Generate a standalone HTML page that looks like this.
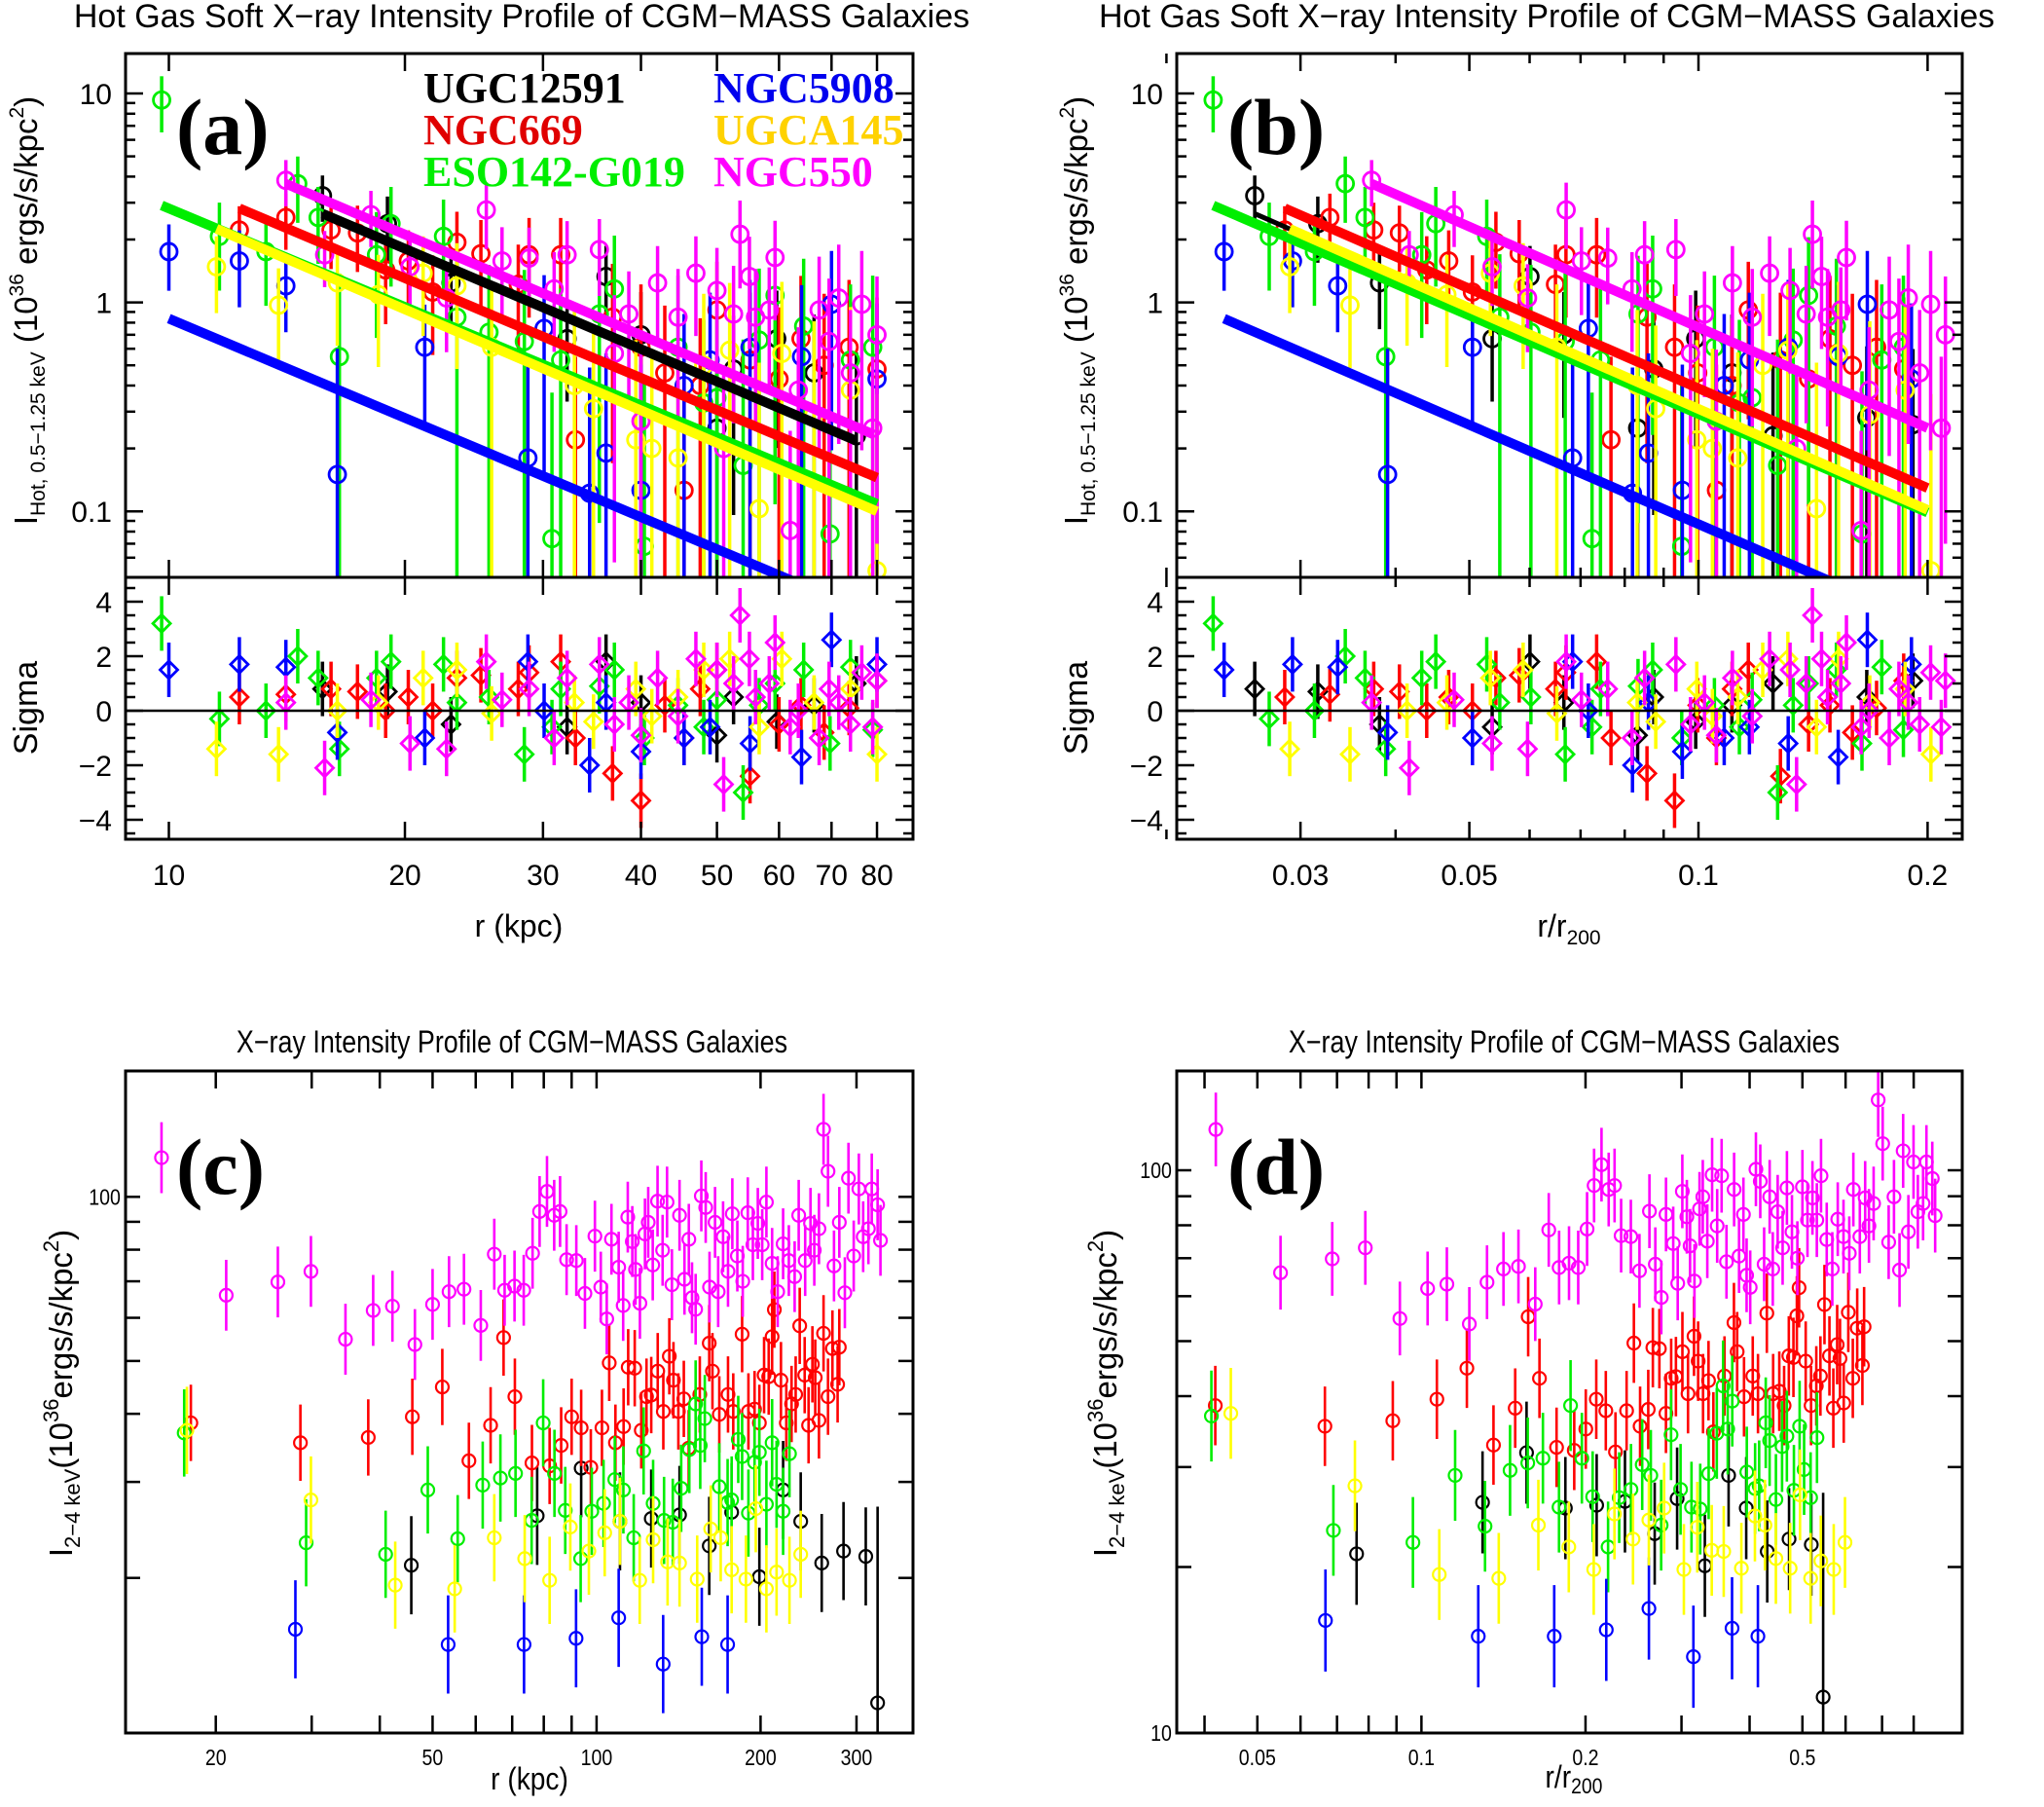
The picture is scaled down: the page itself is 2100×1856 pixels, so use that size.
<!DOCTYPE html>
<html><head><meta charset="utf-8"><style>
html,body{margin:0;padding:0;background:#fff;overflow:hidden;}
svg{display:block;font-family:"Liberation Sans",sans-serif;}
.ser{font-family:"Liberation Serif",serif;font-weight:bold;}
</style></head><body>
<svg id="fig" width="2100" height="1856" viewBox="0 0 2100 1856" xmlns="http://www.w3.org/2000/svg" overflow="hidden">
<defs>
<clipPath id="clipA"><rect x="129" y="55" width="809" height="538"/></clipPath>
<clipPath id="clipAs"><rect x="129" y="593" width="809" height="269"/></clipPath>
<clipPath id="clipB"><rect x="1209" y="55" width="807" height="538"/></clipPath>
<clipPath id="clipBs"><rect x="1209" y="593" width="807" height="269"/></clipPath>
<clipPath id="clipC"><rect x="129" y="1100" width="809" height="680"/></clipPath>
<clipPath id="clipD"><rect x="1209" y="1100" width="807" height="680"/></clipPath>
</defs>
<text x="536" y="28" font-size="34" text-anchor="middle">Hot Gas Soft X−ray Intensity Profile of CGM−MASS Galaxies</text>
<text x="1129" y="28" font-size="34">Hot Gas Soft X−ray Intensity Profile of CGM−MASS Galaxies</text>
<text x="526" y="1081" font-size="32" text-anchor="middle" transform="translate(526 0) scale(0.84 1) translate(-526 0)">X−ray Intensity Profile of CGM−MASS Galaxies</text>
<text x="1607" y="1081" font-size="32" text-anchor="middle" transform="translate(1607 0) scale(0.84 1) translate(-1607 0)">X−ray Intensity Profile of CGM−MASS Galaxies</text>

<text transform="translate(38 319) rotate(-90)" font-size="33" text-anchor="middle">I<tspan font-size="21" dy="8">Hot, 0.5−1.25 keV</tspan><tspan dy="-8"> (10</tspan><tspan font-size="21" dy="-14">36</tspan><tspan dy="14"> ergs/s/kpc</tspan><tspan font-size="21" dy="-14">2</tspan><tspan dy="14">)</tspan></text>
<text transform="translate(38 727) rotate(-90)" font-size="34" text-anchor="middle">Sigma</text>
<text transform="translate(1117 319) rotate(-90)" font-size="33" text-anchor="middle">I<tspan font-size="21" dy="8">Hot, 0.5−1.25 keV</tspan><tspan dy="-8"> (10</tspan><tspan font-size="21" dy="-14">36</tspan><tspan dy="14"> ergs/s/kpc</tspan><tspan font-size="21" dy="-14">2</tspan><tspan dy="14">)</tspan></text>
<text transform="translate(1117 727) rotate(-90)" font-size="34" text-anchor="middle">Sigma</text>
<text x="533" y="962" font-size="32" text-anchor="middle">r (kpc)</text>
<text x="1612" y="962" font-size="32" text-anchor="middle">r/r<tspan font-size="21" dy="8">200</tspan></text>
<text transform="translate(74 1431) rotate(-90)" font-size="33" text-anchor="middle">I<tspan font-size="22" dy="8">2−4 keV</tspan><tspan dy="-8">(10</tspan><tspan font-size="22" dy="-14">36</tspan><tspan dy="14">ergs/s/kpc</tspan><tspan font-size="22" dy="-14">2</tspan><tspan dy="14">)</tspan></text>
<text transform="translate(1147 1431) rotate(-90)" font-size="33" text-anchor="middle">I<tspan font-size="22" dy="8">2−4 keV</tspan><tspan dy="-8">(10</tspan><tspan font-size="22" dy="-14">36</tspan><tspan dy="14">ergs/s/kpc</tspan><tspan font-size="22" dy="-14">2</tspan><tspan dy="14">)</tspan></text>
<text x="544" y="1838" font-size="32" text-anchor="middle" transform="translate(544 0) scale(0.88 1) translate(-544 0)">r (kpc)</text>
<text x="1617" y="1836" font-size="32" text-anchor="middle" transform="translate(1617 0) scale(0.88 1) translate(-1617 0)">r/r<tspan font-size="22" dy="6">200</tspan></text>
<g id="layer"></g>
</svg>
<script>
const galaxies = ['UGC12591','NGC669','ESO142-G019','NGC5908','UGCA145','NGC550'];
const colors = ['#000000','#ff0000','#00ee00','#0000ff','#ffff00','#ff00ff'];
const legendColors = ['#000000','#e00000','#00ee00','#0000ee','#ffd200','#ff00ff'];
const r200 = [601, 430, 425, 420, 396, 379];

// soft-band profile (r kpc, intensity, relative error, sigma residual)
const softR_UGC12591 = [15.7,19.0,22.9,32.2,36.1,40,50,52.5,59.6,66.5,75.3,100,115];
const softI_UGC12591 = [3.24,2.38,1.24,0.67,1.33,0.70,0.25,0.48,0.67,0.46,0.23,0.28,0.26];
const softE_UGC12591 = [0.25,0.35,0.4,0.5,0.4,0.6,1.2,0.8,0.7,0.9,1.5,1.2,1.3];
const softS_UGC12591 = [0.8,0.7,-0.5,-0.6,1.8,0.3,-0.9,0.5,-0.4,0.2,1.0,0.5,1.1];

const softR_NGC669 = [12.3,14.1,16.1,17.4,18.9,20.2,21.7,23.3,25,27.9,28.8,31.6,33,36.8,40,42.9,45.4,47.6,50,55.1,60,64,68.5,73.7,80];
const softI_NGC669 = [2.22,2.55,2.22,2.15,1.43,1.58,1.12,1.94,1.71,1.22,1.69,1.69,0.22,0.85,0.61,0.46,0.126,0.40,0.92,0.53,0.43,0.67,0.50,0.61,0.48];
const softE_NGC669 = [0.3,0.3,0.35,0.35,0.45,0.4,0.5,0.4,0.45,0.55,0.5,0.5,1.5,0.8,1,1.1,3,1.1,0.7,1.1,1.2,1,1.2,1.1,1.2];
const softS_NGC669 = [0.5,0.6,0.8,0.7,0.0,0.5,0.0,1.2,1.3,0.8,1.4,1.8,-1.0,-2.3,-3.3,0.2,-1.0,0.8,1.5,-2.4,-0.5,0.2,-0.8,0.1,1.1];

const softR_ESO142 = [9.79,11.6,13.3,14.6,15.5,16.5,18.4,19.2,22.4,23.3,25.6,28.4,30.8,31.6,35.4,37,40.4,44.6,48.1,50,54,56.6,59.3,64.5,69.7,74,79];
const softI_ESO142 = [9.3,2.07,1.75,3.7,2.55,0.55,1.69,2.38,2.07,0.85,0.72,0.65,0.074,0.53,0.88,1.16,0.068,0.61,0.33,0.35,0.166,0.66,1.08,0.77,0.078,0.53,0.61];
const softE_ESO142 = [0.3,0.45,0.45,0.35,0.4,1.5,0.6,0.5,0.5,1,1.1,1.2,4,1.2,0.9,0.8,5,1.2,1.5,1.5,3,1.2,0.9,1.1,5,1.3,1.2];
const softS_ESO142 = [3.2,-0.3,0,2.0,1.2,-1.4,1.2,1.8,1.7,0.3,0.5,-1.6,-0.6,0.8,0.9,1.5,-1.0,0.2,-0.6,0.4,-3.0,0.2,1.0,1.5,-1.2,1.6,-0.7];

const softR_NGC5908 = [10,12.3,14.1,16.4,21.2,28.7,30.1,34.4,36.1,40,45.4,49,55.1,64.1,70,80];
const softI_NGC5908 = [1.75,1.58,1.2,0.15,0.61,0.18,0.75,0.122,0.19,0.126,0.40,0.53,0.61,0.55,0.98,0.43];
const softE_NGC5908 = [0.35,0.4,0.4,3,0.6,2,0.8,3,2,3,1.2,1.1,1.1,1.2,0.8,1.3];
const softS_NGC5908 = [1.5,1.7,1.6,-0.8,-1.0,1.8,0.0,-2.0,0.3,-1.5,-1.0,-0.6,-1.2,-1.7,2.6,1.7];

const softR_UGCA145 = [11.5,13.8,16.4,18.5,21.1,23.3,25.8,32.9,34.8,39.4,41.3,44.6,48.1,51.9,56.6,60.5,66.5,74,80];
const softI_UGCA145 = [1.48,0.97,1.24,1.09,1.38,1.2,0.61,0.40,0.31,0.22,0.2,0.18,0.50,0.59,0.103,0.57,0.29,0.38,0.052];
const softE_UGCA145 = [0.4,0.5,0.5,0.55,0.5,0.6,1,1.3,1.5,2,2,2.2,1.2,1.1,4,1.2,1.8,1.5,6];
const softS_UGCA145 = [-1.4,-1.6,0.0,0.3,1.2,1.5,-0.1,0.3,-0.4,0.8,-0.2,0.5,1.5,1.9,-0.6,1.9,0.3,0.8,-1.6];

const softR_NGC550 = [14.1,15.8,18.1,20.3,22.6,25.4,26.6,28.8,31,32.2,35.4,37,38.6,40,42,44.6,47,50,51,52.5,53.5,55,56,58.3,59.3,62,63.5,67.5,69.5,71.5,74,76.5,79,80];
const softI_NGC550 = [3.84,1.69,2.63,1.48,1.05,2.77,1.58,1.63,1.16,1.69,1.79,0.57,0.88,0.27,1.24,0.85,1.38,1.14,0.2,0.88,2.12,1.33,0.85,0.92,1.64,0.081,0.38,0.92,0.65,1.05,0.46,0.98,0.25,0.7];
const softE_NGC550 = [0.25,0.3,0.3,0.35,0.45,0.35,0.45,0.4,0.5,0.45,0.4,0.9,0.6,1.2,0.5,0.7,0.5,0.6,1.5,0.7,0.45,0.55,0.7,0.6,0.5,2,1,0.8,1,0.8,1,0.8,1.2,0.9];
const softS_NGC550 = [0.3,-2.1,0.4,-1.2,-1.4,1.8,0.4,0.8,-1.0,1.2,1.7,-0.5,0.3,-0.9,1.2,-0.2,1.9,1.5,-2.7,1.0,3.5,1.9,0.5,1.0,2.5,-0.6,0,-1.0,0.8,0.3,-0.5,1.4,-0.6,1.1];

// power-law fits: endpoints (r kpc, intensity); panel b end in r/r200
const fitR0 = [15.7,12.3,9.79,10,11.5,14.1];
const fitR1 = [75.2,80,80,80,80,79.3];
const fitI0 = [2.66,2.82,2.91,0.836,2.25,3.70];
const fitI1 = [0.218,0.145,0.1086,0.0314,0.100,0.233];
const fitQ1b = [0.2,0.2,0.2,0.2,0.2,0.2];

// hard-band 2-4 keV profile (r kpc, intensity)
const hardR_UGC12591 = [45.7,77.8,93.7,110.4,126,142,161,177,199,220,237,259,284,312,328];
const hardI_UGC12591 = [21.1,26.0,31.8,25.4,25.7,26.1,22.9,26.4,20.1,29.0,25.4,21.3,22.4,21.9,11.8];
const hardR_NGC669 = [18.0,28.6,38.1,45.9,52.1,58.3,63.9,67.5,70.8,76.1,82,86.1,90,93.7,97.6,102.3,105.5,108.3,112.1,114.3,117.5,120.8,123.5,126,129.5,132.6,136,138.4,141.3,144.6,147.6,154.7,161,163.2,168,174.3,178.2,185,190,195,199,203,207,210,212,218,223,228,232,236,241,245,249,252,256,261,266,271,277,279];
const hardI_NGC669 = [38.5,35.4,36.2,39.5,44.8,32.8,38.1,55.2,43.0,32.5,32.1,35.0,39.5,37.7,31.9,37.7,49.6,35.4,37.9,48.7,48.5,37.3,43.0,43.3,47.9,40.4,51.0,46.1,40.4,42.6,34.6,43.4,53.9,47.9,39.9,43.4,40.4,56.0,40.4,40.8,38.5,47.1,46.8,55.4,62.1,46.1,38.5,41.7,43.4,58,47.1,38.1,49.3,46.6,38.9,56.2,43.0,52.7,45.3,53.0];
const hardR_ESO142 = [17.5,29.3,41.0,49.0,55.6,61.8,66.6,71,76,79.8,83.7,87.6,93.5,98,103,108,112,117,122,127,133,138,143,148,152,155,158,168,174,177,182,185,190,195,199,205,210,214,220,226];
const hardI_ESO142 = [36.9,23.2,22.1,29.0,23.6,29.6,30.5,31.1,25.5,38.5,31.1,26.6,21.7,26.5,27.4,30.3,29.0,23.7,34.2,27.4,25.5,25.3,29.2,34.4,41.7,35.0,39.2,29.4,27.5,27.8,35.9,33.4,26.3,32.6,34.0,27.3,35.4,29.7,26.5,33.8];
const hardR_NGC5908 = [28.0,53.4,73.6,91.7,109.8,132.5,156,174];
const hardI_NGC5908 = [16.1,15.1,15.1,15.5,16.9,13.9,15.6,15.1];
const hardR_UGCA145 = [17.7,29.9,42.7,54.9,64.9,73.8,82,89.5,96.8,103.5,110.4,120,127,135,142,153,162,169,177,188,196,205,214,226,237];
const hardI_UGCA145 = [37.3,27.8,19.4,19.1,23.7,21.7,19.8,24.8,22.4,24.2,25.4,19.8,23.5,21.4,21.3,19.9,24.6,23.7,20.7,19.9,26.8,19.1,20.5,19.8,22.1];
const hardR_NGC550 = [15.9,20.9,26.0,29.9,34.6,38.9,42.2,46.4,50,53.6,57.1,61.3,64.9,67.8,70.7,73.5,76.3,78.6,81.1,83.6,85.7,88.1,91.8,95.2,99.3,101.8,104.4,106.5,109.8,111.9,114.1,116.3,117.9,120.1,122.7,124.4,126.8,129.4,132.2,134.7,137.5,142,145,147.7,149.7,152,155.7,158.6,161.2,165,167.2,170.7,174.3,177.5,181.3,185.5,189.5,193.6,197.7,201.4,205,210,215,220,225.4,231,235,241.5,247,251,256,261,266,272.8,279,285.6,290,296.5,303,308.6,315.5,320,328,332];
const hardI_NGC550 = [118,66,69.8,73.0,54.8,61.9,63.0,53.6,63.5,67.0,67.7,58.1,78.5,67.4,68.6,67.4,78.8,94.0,102.3,92.5,94.0,76.7,76.4,66.5,84.7,68.3,59.7,83.6,74.3,63.2,91.8,82.8,73.6,63.8,85.5,89.8,75,98.2,79.8,97.8,69.0,92.5,70.6,83.6,65.3,62.2,100.4,95.6,68.3,89.8,67.0,84.5,73.0,93.1,77.9,70,93.5,81.7,89.4,81.7,97.8,75.5,67,82,76.4,71.4,92.5,76.4,89.4,79.8,87.4,133,111.4,74.7,89.8,66.7,108.2,77.9,103.4,84.5,87.4,103.4,96.7,83.2];
const hardErrDex = [0.09,0.07,0.08,0.09,0.08,0.065];

const softR = [softR_UGC12591,softR_NGC669,softR_ESO142,softR_NGC5908,softR_UGCA145,softR_NGC550];
const softI = [softI_UGC12591,softI_NGC669,softI_ESO142,softI_NGC5908,softI_UGCA145,softI_NGC550];
const softE = [softE_UGC12591,softE_NGC669,softE_ESO142,softE_NGC5908,softE_UGCA145,softE_NGC550];
const softS = [softS_UGC12591,softS_NGC669,softS_ESO142,softS_NGC5908,softS_UGCA145,softS_NGC550];
const hardR = [hardR_UGC12591,hardR_NGC669,hardR_ESO142,hardR_NGC5908,hardR_UGCA145,hardR_NGC550];
const hardI = [hardI_UGC12591,hardI_NGC669,hardI_ESO142,hardI_NGC5908,hardI_UGCA145,hardI_NGC550];

const L = Math.log10;
const xA = r => 173.5 + 805.6*L(r/10);
const xB = q => 1745 + 782*L(q/0.1);
const yAB = I => 310.6 - 214.6*L(I);
const sAB = s => 730 - 28*s;
const xC = r => 221.7 + 559.7*L(r/20);
const yC = I => 1229.3 - 560*L(I/100);
const xD = q => 1291.8 + 560*L(q/0.05);
const yD = I => 1202 - 583*L(I/100);
const TOP=55, MID=593, BOT=862;

const NS = 'http://www.w3.org/2000/svg';
const layer = document.getElementById('layer');
function mk(tag, attrs, parent){ const e=document.createElementNS(NS,tag); for(const k in attrs) e.setAttribute(k,attrs[k]); (parent||layer).appendChild(e); return e; }
function grp(name, clip){ const g=mk('g', clip?{'clip-path':'url(#'+clip+')'}:{});
  
  
  return g; }
function txt(s, x, y, size, anchor, g, extra){ const t=mk('text', Object.assign({x:x,y:y,'font-size':size,'text-anchor':anchor||'middle'}, extra||{}), g); t.textContent=s; return t; }

// ---------- Panels a/b soft ----------
function softPanel(tag, xf, clipTop, clipBot){
  const gTop = grp('panel-'+tag+'-profile', clipTop);
  const gBot = grp('panel-'+tag+'-residuals', clipBot);
  [0,1,2,3,4,5].forEach(k=>{
    const gs = grp('series-'+galaxies[k].toLowerCase()+'-'+tag, null);
    gTop.appendChild(gs);
    const gd = grp('residual-'+galaxies[k].toLowerCase()+'-'+tag, null);
    gBot.appendChild(gd);
    softR[k].forEach((r,i)=>{
      const xv = tag==='a' ? xf(r) : xf(r/r200[k]);
      const I = softI[k][i], e = softE[k][i]*I;
      const lo = I-e>0.01 ? Math.min(yAB(I-e),600) : 600;
      const bar = mk('line',{x1:xv,x2:xv,y1:yAB(I+e),y2:lo,stroke:colors[k],'stroke-width':3.5},gs);
      
      
      const c = mk('circle',{cx:xv,cy:yAB(I),r:8.5,fill:'none',stroke:colors[k],'stroke-width':2.8},gs);
      
      
      const s = softS[k][i], ys=sAB(s);
      const sb = mk('line',{x1:xv,x2:xv,y1:sAB(s+1),y2:sAB(s-1),stroke:colors[k],'stroke-width':3.5},gd);
      
      
      const d = mk('polygon',{points:`${xv},${ys-9} ${xv+9},${ys} ${xv},${ys+9} ${xv-9},${ys}`,fill:'none',stroke:colors[k],'stroke-width':2.8},gd);
      
      
    });
  });
  const lineOrder = tag==='a' ? [3,2,4,1,0,5] : [3,0,2,4,1,5];
  lineOrder.forEach(k=>{
    const slope = (L(fitI1[k])-L(fitI0[k]))/(L(fitR1[k])-L(fitR0[k]));
    let x0,x1,i1;
    if(tag==='a'){ x0=xf(fitR0[k]); x1=xf(fitR1[k]); i1=fitI1[k]; }
    else { x0=xf(fitR0[k]/r200[k]); x1=xf(fitQ1b[k]); i1=fitI0[k]*Math.pow(fitQ1b[k]*r200[k]/fitR0[k], slope); }
    const w = (tag==='b' && k===0) ? 5 : 10;
    const ln = mk('line',{x1:x0,y1:yAB(fitI0[k]),x2:x1,y2:yAB(i1),stroke:colors[k],'stroke-width':w},gTop);
    
    
  });
  const zl = mk('line',{x1:0,x2:2100,y1:sAB(0),y2:sAB(0),stroke:'#000','stroke-width':2.5},gBot);
  
  
}
softPanel('a', xA, 'clipA', 'clipAs');
softPanel('b', xB, 'clipB', 'clipBs');

// ---------- Panels c/d hard ----------
function hardPanel(tag, xf, yf, clip){
  const g = grp('panel-'+tag+'-plot', clip);
  [0,1,2,3,4,5].forEach(k=>{
    const gs = grp('series-'+galaxies[k].toLowerCase()+'-'+tag, null);
    g.appendChild(gs);
    hardR[k].forEach((r,i)=>{
      const xv = tag==='c'? xf(r) : xf(r/r200[k]);
      const I = hardI[k][i], ed = hardErrDex[k]*(k===0&&i===hardR[k].length-1?4:1);
      const bar = mk('line',{x1:xv,x2:xv,y1:yf(I*Math.pow(10,ed)),y2:Math.min(yf(I/Math.pow(10,ed)),1780),stroke:colors[k],'stroke-width':2.6},gs);
      
      
      const c = mk('circle',{cx:xv,cy:yf(I),r:6.5,fill:'none',stroke:colors[k],'stroke-width':2.2},gs);
      
      
    });
  });
}
hardPanel('c', xC, yC, 'clipC');
hardPanel('d', xD, yD, 'clipD');

// ---------- Axes / ticks ----------
function frame(name, x0, y0, x1, y1){
  const f = mk('rect',{x:x0,y:y0,width:x1-x0,height:y1-y0,fill:'none',stroke:'#000','stroke-width':3});
  
  
}
function xt(g, xv, yTop, yBot, len){ mk('line',{x1:xv,x2:xv,y1:yBot,y2:yBot-len,stroke:'#000','stroke-width':2.5},g); mk('line',{x1:xv,x2:xv,y1:yTop,y2:yTop+len,stroke:'#000','stroke-width':2.5},g); }
function yt(g, yv, xL, xR, len){ mk('line',{x1:xL,x2:xL+len,y1:yv,y2:yv,stroke:'#000','stroke-width':2.5},g); mk('line',{x1:xR,x2:xR-len,y1:yv,y2:yv,stroke:'#000','stroke-width':2.5},g); }

const aXticks = [10,20,30,40,50,60,70,80];
const bXticks = [0.02,0.03,0.04,0.05,0.06,0.07,0.08,0.09,0.1,0.2];
const bXlabels = [0.03,0.05,0.1,0.2];
const yMinor = [0.06,0.07,0.08,0.09,0.2,0.3,0.4,0.5,0.6,0.7,0.8,0.9,2,3,4,5,6,7,8,9];
const yMajor = [0.1,1,10];
const sigTicks = [-4,-2,0,2,4];
const sigMinor = [-4.5,-3.5,-3,-2.5,-1.5,-1,-0.5,0.5,1,1.5,2.5,3,3.5,4.5];
const cXticks = [20,50,100,200,300];
const cXminor = [30,40,60,70,80,90];
const hYminor = [20,30,40,50,60,70,80,90];
const dXticks = [0.04,0.05,0.06,0.07,0.08,0.09,0.1,0.2,0.3,0.4,0.5,0.6,0.7,0.8];
const dXlabels = [0.05,0.1,0.2,0.5];

function softAxes(tag, x0, x1, xf, ticks, labels){
  const g = grp('axes-'+tag, null);
  frame('frame-'+tag+'-profile', x0, TOP, x1, MID);
  frame('frame-'+tag+'-residuals', x0, MID, x1, BOT);
  ticks.forEach(t=>{ const xv=xf(t); const len = labels.includes(t)?18:10; xt(g,xv,TOP,MID,len); xt(g,xv,MID,BOT,len); });
  labels.forEach(t=>{ const l=txt(String(t), xf(t), 909, 30, 'middle', g);
    
     });
  yMajor.forEach(v=>{ yt(g,yAB(v),x0,x1,18); const l=txt(String(v), x0-14, yAB(v)+11, 30, 'end', g);
    
     });
  yMinor.forEach(v=>{ const yv=yAB(v); if(yv>TOP+2&&yv<MID-2) yt(g,yv,x0,x1,10); });
  sigTicks.forEach(v=>{ yt(g,sAB(v),x0,x1,18); const l=txt(v<0?'−'+(-v):String(v), x0-14, sAB(v)+11, 30, 'end', g);
    
     });
  sigMinor.forEach(v=>yt(g,sAB(v),x0,x1,10));
}
softAxes('a', 129, 938, xA, aXticks, aXticks);
softAxes('b', 1209, 2016, xB, bXticks, bXlabels);

function hardAxes(tag, x0, x1, xf, yf, major, minor, labels, ylabels){
  const g = grp('axes-'+tag, null);
  frame('frame-'+tag, x0, 1100, x1, 1780);
  major.forEach(t=>xt(g,xf(t),1100,1780,18));
  minor.forEach(t=>xt(g,xf(t),1100,1780,18));
  labels.forEach(t=>{ const xv=xf(t); const l=txt(String(t), xv, 1813, 23, 'middle', g, {transform:`translate(${xv} 0) scale(0.85 1) translate(${-xv} 0)`});
    
     });
  hYminor.concat([100]).forEach(v=>yt(g,yf(v),x0,x1,15));
  ylabels.forEach(v=>{ const yy=Math.min(yf(v),1780); const l=txt(String(v), x0-6, yy+8, 23, 'end', g, {transform:`translate(${x0} 0) scale(0.85 1) translate(${-x0} 0)`});
    
     });
}
hardAxes('c', 129, 938, xC, yC, cXticks, cXminor, cXticks, [100]);
hardAxes('d', 1209, 2016, xD, yD, dXticks, [], dXlabels, [10,100]);

// ---------- Legend & panel letters ----------
const legX = [435,435,435,733,733,733];
const legY = [105,148,191,105,148,191];
const lg = grp('legend', null);
galaxies.forEach((n,k)=>{
  const t = txt(n, legX[k], legY[k], 44, 'start', lg, {fill:legendColors[k], class:'ser'});
  
  
});
const letters = ['(a)','(b)','(c)','(d)'];
const letX = [181,1261,181,1261];
const letY = [158,158,1226,1226];
letters.forEach((s,i)=>{
  const t = txt(s, letX[i], letY[i], 82, 'start', layer, {class:'ser'});
  
  
});
</script>
</body></html>
